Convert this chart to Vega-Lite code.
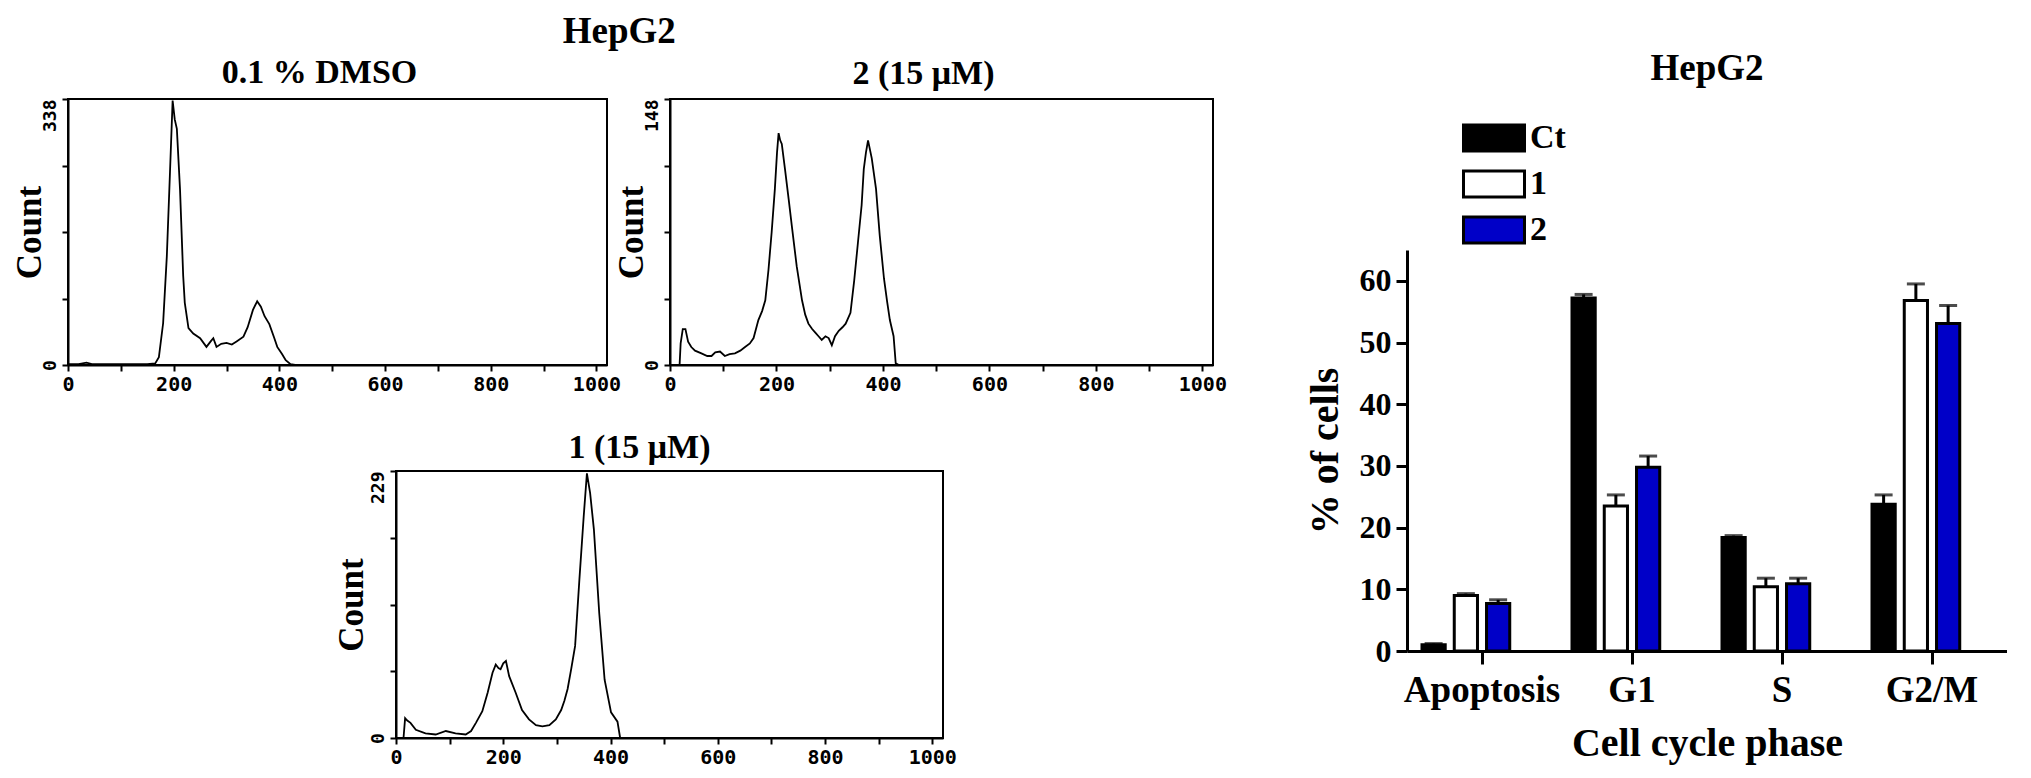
{
  "$schema": "https://vega.github.io/schema/vega-lite/v6.json",
  "background": "white",
  "padding": {"left": 11, "top": 12, "right": 0, "bottom": 0},
  "config": {
    "font": "Liberation Serif",
    "view": {"stroke": null},
    "title": {"font": "Liberation Serif", "fontWeight": "bold", "color": "black"},
    "axis": {"labelFont": "Liberation Serif", "titleFont": "Liberation Serif", "labelFontWeight": "bold", "titleFontWeight": "bold", "labelColor": "black", "titleColor": "black", "domainColor": "black", "tickColor": "black", "grid": false}
  },
  "datasets": {
    "dmso": [
      {"ch":0,"n":1},{"ch":20,"n":1},{"ch":35,"n":3},{"ch":45,"n":1},{"ch":80,"n":1},{"ch":120,"n":1},{"ch":150,"n":1},{"ch":165,"n":2},{"ch":172,"n":10},{"ch":180,"n":53},{"ch":187,"n":138},{"ch":193,"n":245},{"ch":198,"n":336},{"ch":202,"n":312},{"ch":206,"n":300},{"ch":212,"n":223},{"ch":218,"n":113},{"ch":221,"n":79},{"ch":228,"n":47},{"ch":237,"n":40},{"ch":250,"n":34},{"ch":262,"n":23},{"ch":270,"n":30},{"ch":275,"n":34},{"ch":281,"n":23},{"ch":290,"n":27},{"ch":300,"n":28},{"ch":310,"n":26},{"ch":319,"n":30},{"ch":332,"n":36},{"ch":340,"n":48},{"ch":350,"n":70},{"ch":358,"n":81},{"ch":365,"n":74},{"ch":372,"n":62},{"ch":381,"n":52},{"ch":390,"n":35},{"ch":396,"n":23},{"ch":405,"n":14},{"ch":412,"n":6},{"ch":421,"n":1},{"ch":430,"n":0},{"ch":1020,"n":0}
    ],
    "c2": [
      {"ch":0,"n":0},{"ch":18,"n":0},{"ch":20,"n":12},{"ch":24,"n":20},{"ch":29,"n":20},{"ch":34,"n":13},{"ch":40,"n":10},{"ch":47,"n":8},{"ch":59,"n":6.5},{"ch":70,"n":5},{"ch":78,"n":5},{"ch":85,"n":7},{"ch":94,"n":7.5},{"ch":103,"n":5},{"ch":112,"n":6},{"ch":122,"n":6.5},{"ch":132,"n":8},{"ch":141,"n":10},{"ch":150,"n":12},{"ch":157,"n":15},{"ch":166,"n":25},{"ch":173,"n":30},{"ch":179,"n":36},{"ch":185,"n":53},{"ch":191,"n":74},{"ch":197,"n":98},{"ch":201,"n":118},{"ch":204,"n":129},{"ch":207,"n":125},{"ch":210,"n":123},{"ch":216,"n":109},{"ch":223,"n":92},{"ch":229,"n":77},{"ch":238,"n":55},{"ch":248,"n":36},{"ch":254,"n":28},{"ch":260,"n":23},{"ch":267,"n":20},{"ch":273,"n":18},{"ch":279,"n":16},{"ch":285,"n":14},{"ch":292,"n":16},{"ch":298,"n":15},{"ch":304,"n":11},{"ch":310,"n":16},{"ch":317,"n":19},{"ch":324,"n":21},{"ch":330,"n":23},{"ch":339,"n":29},{"ch":346,"n":47},{"ch":353,"n":68},{"ch":360,"n":89},{"ch":364,"n":109},{"ch":368,"n":118},{"ch":372,"n":125},{"ch":379,"n":115},{"ch":387,"n":98},{"ch":394,"n":72},{"ch":402,"n":48},{"ch":408,"n":35},{"ch":413,"n":25},{"ch":420,"n":16},{"ch":424,"n":1},{"ch":430,"n":0},{"ch":1020,"n":0}
    ],
    "c1": [
      {"ch":0,"n":0},{"ch":14,"n":0},{"ch":17,"n":17},{"ch":21,"n":15},{"ch":27,"n":13},{"ch":37,"n":7},{"ch":55,"n":4},{"ch":74,"n":3},{"ch":93,"n":6},{"ch":111,"n":4},{"ch":130,"n":3},{"ch":140,"n":6},{"ch":149,"n":13},{"ch":161,"n":23},{"ch":171,"n":39},{"ch":180,"n":56},{"ch":186,"n":63},{"ch":191,"n":60},{"ch":195,"n":59},{"ch":200,"n":64},{"ch":205,"n":66},{"ch":211,"n":53},{"ch":223,"n":39},{"ch":235,"n":24},{"ch":248,"n":16},{"ch":261,"n":11},{"ch":273,"n":10},{"ch":286,"n":11},{"ch":298,"n":16},{"ch":308,"n":24},{"ch":314,"n":32},{"ch":320,"n":42},{"ch":327,"n":60},{"ch":334,"n":79},{"ch":342,"n":136},{"ch":350,"n":190},{"ch":356,"n":227},{"ch":362,"n":210},{"ch":369,"n":179},{"ch":379,"n":107},{"ch":389,"n":50},{"ch":401,"n":22},{"ch":413,"n":14},{"ch":418,"n":0},{"ch":1020,"n":0}
    ],
    "cycle": [
      {"phase":"Apoptosis","trt":"Ct","pct":1.0,"hi":1.2},
      {"phase":"Apoptosis","trt":"1","pct":9.0,"hi":9.3},
      {"phase":"Apoptosis","trt":"2","pct":7.7,"hi":8.3},
      {"phase":"G1","trt":"Ct","pct":57.2,"hi":57.8},
      {"phase":"G1","trt":"1","pct":23.5,"hi":25.3},
      {"phase":"G1","trt":"2","pct":29.8,"hi":31.6},
      {"phase":"S","trt":"Ct","pct":18.4,"hi":18.7},
      {"phase":"S","trt":"1","pct":10.4,"hi":11.8},
      {"phase":"S","trt":"2","pct":10.9,"hi":11.8},
      {"phase":"G2/M","trt":"Ct","pct":23.8,"hi":25.3},
      {"phase":"G2/M","trt":"1","pct":56.8,"hi":59.5},
      {"phase":"G2/M","trt":"2","pct":53.1,"hi":56.0}
    ]
  },
  "bounds": "flush",
  "spacing": 1339,
  "hconcat": [
    {
      "title": {"text": "HepG2", "fontSize": 37, "offset": -25, "baseline": "alphabetic", "anchor": "middle"},
      "bounds": "flush",
      "spacing": 328,
      "hconcat": [
        {
          "bounds": "flush",
          "vconcat": [
            {
              "title": {"text": "0.1 % DMSO", "fontSize": 34, "offset": -20, "dx": -18, "baseline": "alphabetic"},
              "width": 539, "height": 266,
              "view": {"stroke": "black", "strokeWidth": 2},
              "data": {"name": "dmso"},
              "mark": {"type": "line", "color": "black", "strokeWidth": 1.8},
              "encoding": {
                "x": {"field": "ch", "type": "quantitative", "scale": {"domain": [0, 1020], "nice": false, "zero": false},
                  "axis": {"title": null, "values": [0,100,200,300,400,500,600,700,800,900,1000], "format": "d", "labelExpr": "datum.value % 200 === 0 ? datum.label : ''", "labelFont": "DejaVu Sans Mono", "labelFontSize": 20, "tickSize": 6, "tickWidth": 2, "domainWidth": 2, "labelPadding": 3, "labelFlush": false, "labelOverlap": false}},
                "y": {"field": "n", "type": "quantitative", "scale": {"domain": [0, 338], "nice": false},
                  "axis": {"title": "Count", "titleFontSize": 35, "titlePadding": -6, "values": [0, 84.5, 169, 253.5, 338], "format": "d", "labelExpr": "datum.value == 0 || datum.value == 338 ? datum.label : ''", "labelFont": "DejaVu Sans Mono", "labelFontSize": 18, "labelAngle": 270, "labelAlign": {"condition": {"test": "datum.value == 0", "value": "center"}, "value": "right"}, "labelBaseline": "alphabetic", "tickSize": 6, "tickWidth": 2, "domainWidth": 2, "labelPadding": 7, "labelFlush": false, "labelOverlap": false}}
              }
            }
          ]
        },
        {
          "bounds": "flush",
          "spacing": 274,
          "hconcat": [
            {
              "bounds": "flush",
              "vconcat": [
                {
                  "title": {"text": "1 (15 μM)", "fontSize": 34, "offset": -393, "dx": -30, "baseline": "alphabetic"},
                  "width": 547, "height": 639,
                  "layer": [
                    {
                      "data": {"values": [{"panel": "1 (15 μM)"}]},
                      "mark": {"type": "rect", "fill": null, "stroke": "black", "strokeWidth": 2},
                      "encoding": {
                        "x": {"datum": 0, "type": "quantitative"},
                        "x2": {"datum": 1020},
                        "y": {"datum": 0, "type": "quantitative"},
                        "y2": {"datum": 229}
                      }
                    },
                    {
                      "data": {"name": "c1"},
                      "mark": {"type": "line", "color": "black", "strokeWidth": 1.8},
                      "encoding": {
                        "x": {"field": "ch", "type": "quantitative"},
                        "y": {"field": "n", "type": "quantitative"}
                      }
                    }
                  ],
                  "encoding": {
                    "x": {"type": "quantitative", "scale": {"domain": [0, 1020], "nice": false, "zero": false},
                      "axis": {"title": null, "values": [0,100,200,300,400,500,600,700,800,900,1000], "format": "d", "labelExpr": "datum.value % 200 === 0 ? datum.label : ''", "labelFont": "DejaVu Sans Mono", "labelFontSize": 20, "tickSize": 6, "tickWidth": 2, "domainWidth": 2, "labelPadding": 3, "labelFlush": false, "labelOverlap": false}},
                    "y": {"type": "quantitative", "scale": {"domain": [0, 229], "range": [639, 372], "nice": false},
                      "axis": {"title": "Count", "titleFontSize": 35, "titlePadding": 0, "values": [0, 57.25, 114.5, 171.75, 229], "format": "d", "labelExpr": "datum.value == 0 || datum.value == 229 ? datum.label : ''", "labelFont": "DejaVu Sans Mono", "labelFontSize": 18, "labelAngle": 270, "labelAlign": {"condition": {"test": "datum.value == 0", "value": "center"}, "value": "right"}, "labelBaseline": "alphabetic", "tickSize": 6, "tickWidth": 2, "domainWidth": 2, "labelPadding": 7, "labelFlush": false, "labelOverlap": false}}
                  }
                }
              ]
            },
            {
              "title": {"text": "2 (15 μM)", "fontSize": 34, "offset": -20, "dx": -18, "baseline": "alphabetic"},
              "width": 543, "height": 266,
              "view": {"stroke": "black", "strokeWidth": 2},
              "data": {"name": "c2"},
              "mark": {"type": "line", "color": "black", "strokeWidth": 1.8},
              "encoding": {
                "x": {"field": "ch", "type": "quantitative", "scale": {"domain": [0, 1020], "nice": false, "zero": false},
                  "axis": {"title": null, "values": [0,100,200,300,400,500,600,700,800,900,1000], "format": "d", "labelExpr": "datum.value % 200 === 0 ? datum.label : ''", "labelFont": "DejaVu Sans Mono", "labelFontSize": 20, "tickSize": 6, "tickWidth": 2, "domainWidth": 2, "labelPadding": 3, "labelFlush": false, "labelOverlap": false}},
                "y": {"field": "n", "type": "quantitative", "scale": {"domain": [0, 148], "nice": false},
                  "axis": {"title": "Count", "titleFontSize": 35, "titlePadding": -6, "values": [0, 37, 74, 111, 148], "format": "d", "labelExpr": "datum.value == 0 || datum.value == 148 ? datum.label : ''", "labelFont": "DejaVu Sans Mono", "labelFontSize": 18, "labelAngle": 270, "labelAlign": {"condition": {"test": "datum.value == 0", "value": "center"}, "value": "right"}, "labelBaseline": "alphabetic", "tickSize": 6, "tickWidth": 2, "domainWidth": 2, "labelPadding": 7, "labelFlush": false, "labelOverlap": false}}
              }
            }
          ]
        }
      ]
    },
    {
      "title": {"text": "HepG2", "fontSize": 37, "frame": "group", "anchor": "middle", "offset": -18, "baseline": "alphabetic"},
      "width": 600, "height": 552,
      "data": {"name": "cycle"},
      "encoding": {
        "x": {"field": "phase", "type": "nominal", "sort": ["Apoptosis", "G1", "S", "G2/M"],
          "scale": {"paddingInner": 0.2, "paddingOuter": 0.1},
          "axis": {"title": "Cell cycle phase", "labelAngle": 0, "labelFontSize": 37, "titleFontSize": 40, "tickSize": 13, "tickWidth": 3, "domainWidth": 3, "labelPadding": 8, "titlePadding": 15}},
        "xOffset": {"field": "trt", "type": "nominal", "scale": {"domain": ["Ct", "1", "2", "pad"], "paddingInner": 0.28, "paddingOuter": 0}}
      },
      "layer": [
        {
          "mark": {"type": "bar", "stroke": "black", "strokeWidth": 3},
          "encoding": {
            "y": {"field": "pct", "type": "quantitative", "scale": {"domain": [0, 65], "range": [552, 151], "nice": false},
              "axis": {"title": "% of cells", "values": [0,10,20,30,40,50,60], "labelFontSize": 32, "titleFontSize": 40, "tickSize": 11, "tickWidth": 3, "domainWidth": 3, "labelPadding": 5, "titlePadding": 14}},
            "color": {"field": "trt", "type": "nominal", "scale": {"domain": ["Ct", "1", "2"], "range": ["black", "white", "#0000c8"]},
              "legend": {"title": null, "orient": "none", "legendX": 1404, "legendY": 17, "symbolType": "M-1.5,-0.64H1.5V0.64H-1.5Z", "symbolSize": 1654, "symbolStrokeColor": "black", "symbolStrokeWidth": 3, "symbolOpacity": 1, "labelFont": "Liberation Serif", "labelFontWeight": "bold", "labelFontSize": 34, "labelColor": "black", "rowPadding": 4, "labelOffset": 14, "padding": 0}}
          }
        },
        {
          "mark": {"type": "rule", "color": "black", "strokeWidth": 3},
          "encoding": {"y": {"field": "pct", "type": "quantitative"}, "y2": {"field": "hi"}}
        },
        {
          "mark": {"type": "tick", "color": "black", "thickness": 3, "size": 18},
          "encoding": {"y": {"field": "hi", "type": "quantitative"}}
        }
      ]
    }
  ]
}
